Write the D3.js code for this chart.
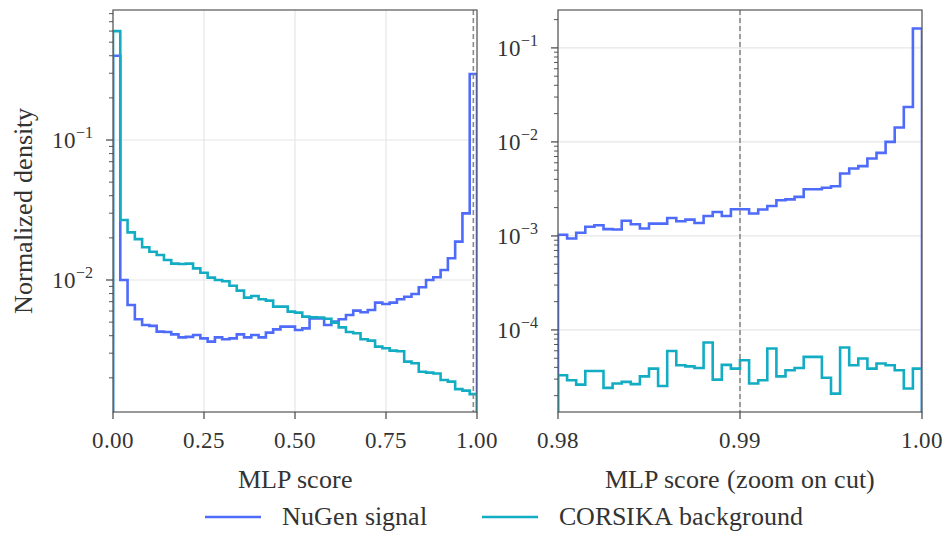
<!DOCTYPE html>
<html><head><meta charset="utf-8"><script src="https://cdn.jsdelivr.net/npm/d3@7"></script>
<style>
  @font-face { font-family: 'ChartSerif'; src: local('Liberation Serif'), local('LiberationSerif'), local('LiberationSerif-Regular'); }
  body { margin: 0; background: #fff; }
  svg text { font-family: 'ChartSerif', 'Liberation Serif', serif; }
</style>
</head>
<body>
<script>
// full range histogram: 50 bins on [0, 1]
const fullBins = 50;
const fullDomain = [0, 1];
const nugenFull = [
  0.40, 0.0100, 0.00663, 0.00524, 0.00477, 0.00470, 0.00428, 0.00425, 0.00409, 0.00389,
  0.00392, 0.00405, 0.00383, 0.00363, 0.00389, 0.00377, 0.00383, 0.00409, 0.00389, 0.00405,
  0.00389, 0.00421, 0.00444, 0.00464, 0.00464, 0.00439, 0.00451, 0.00532, 0.00532, 0.00477,
  0.00504, 0.00524, 0.00562, 0.00604, 0.00588, 0.00611, 0.00689, 0.00674, 0.00689, 0.00728,
  0.00760, 0.00794, 0.00887, 0.0100, 0.01045, 0.01179, 0.01429, 0.0188, 0.0299, 0.296
];
const corsikaFull = [
  0.60, 0.0268, 0.0219, 0.0196, 0.01714, 0.0159, 0.0151, 0.0139, 0.0131, 0.0130,
  0.0131, 0.0121, 0.01127, 0.0104, 0.0100, 0.0098, 0.0091, 0.0084, 0.00748, 0.00769,
  0.00728, 0.00712, 0.00645, 0.00645, 0.00594, 0.00585, 0.00547, 0.00541, 0.0054, 0.00529,
  0.00496, 0.00459, 0.00425, 0.00416, 0.00377, 0.00369, 0.00334, 0.00325, 0.00313, 0.0031,
  0.00261, 0.00254, 0.00221, 0.00218, 0.00215, 0.00193, 0.00188, 0.00166, 0.00162, 0.00153
];

// zoom histogram: 40 bins on [0.98, 1]
const zoomBins = 40;
const zoomDomain = [0.98, 1.0];
const nugenZoom = [
  0.00103, 0.000938, 0.00108, 0.00125, 0.00130, 0.00118, 0.00117, 0.00145, 0.00133, 0.00120,
  0.00135, 0.00135, 0.00155, 0.00143, 0.00149, 0.00137, 0.00163, 0.00180, 0.00163, 0.00192,
  0.00192, 0.00173, 0.00191, 0.00208, 0.00240, 0.00245, 0.00260, 0.00314, 0.00314, 0.00325,
  0.00338, 0.00461, 0.00521, 0.00552, 0.00666, 0.00764, 0.0100, 0.01422, 0.02355, 0.161
];
const corsikaZoom = [
  3.30e-5, 2.92e-5, 2.62e-5, 3.66e-5, 3.66e-5, 2.42e-5, 2.69e-5, 2.80e-5, 2.65e-5, 3.21e-5,
  3.88e-5, 2.53e-5, 5.98e-5, 4.21e-5, 4.10e-5, 3.93e-5, 7.34e-5, 2.96e-5, 4.25e-5, 3.88e-5,
  4.76e-5, 2.69e-5, 2.92e-5, 6.34e-5, 3.21e-5, 3.72e-5, 3.94e-5, 5.17e-5, 5.17e-5, 3.10e-5,
  2.10e-5, 6.50e-5, 4.21e-5, 4.97e-5, 3.88e-5, 4.40e-5, 4.21e-5, 3.72e-5, 2.38e-5, 3.88e-5
];

const cutValue = 0.99;
const fullTicks = [0, 0.25, 0.5, 0.75, 1.0];
const zoomTicks = [0.98, 0.99, 1.0];
const seriesNames = ['NuGen signal', 'CORSIKA background'];
const COLORS = ['#4f6bfa', '#13adc3'];

const WIDTH = 947;
const HEIGHT = 533;
const TOP = 10;
const BOTTOM = 412;
const TEXT_COLOR = '#333';

const svg = d3.select('body').append('svg').attr('width', WIDTH).attr('height', HEIGHT);

function addText(parent, size) {
  return parent.append('text').attr('font-size', size).attr('fill', TEXT_COLOR);
}

function stepPoints(values, edges, yBottom) {
  const pts = [[edges[0], yBottom]];
  values.forEach((v, i) => {
    pts.push([edges[i], v]);
    pts.push([edges[i + 1], v]);
  });
  pts.push([edges[edges.length - 1], yBottom]);
  return pts;
}

function superscript(sel, exp) {
  sel.append('tspan').text('10');
  sel.append('tspan').attr('dy', -10).attr('font-size', 16).text('\u2212' + Math.abs(exp));
}

function drawPanel(opts) {
  const { id, left, right, xDomain, yDomain, nBins, series, xTicks, tickFmt, decades, xLabel } = opts;
  const x = d3.scaleLinear().domain(xDomain).range([left, right]);
  const y = d3.scaleLog().domain(yDomain).range([BOTTOM, TOP]);
  const g = svg.append('g').attr('class', `panel-${id}`);

  g.append('clipPath').attr('id', `clip-${id}`)
    .append('rect').attr('x', left).attr('y', TOP).attr('width', right - left).attr('height', BOTTOM - TOP);

  // grid
  g.selectAll('line.vgrid').data(xTicks).enter().append('line')
    .attr('x1', (d) => x(d)).attr('x2', (d) => x(d)).attr('y1', TOP).attr('y2', BOTTOM)
    .attr('stroke', '#e6e6e6').attr('stroke-width', 1.2);
  g.selectAll('line.hgrid').data(decades).enter().append('line')
    .attr('x1', left).attr('x2', right).attr('y1', (d) => y(Math.pow(10, d))).attr('y2', (d) => y(Math.pow(10, d)))
    .attr('stroke', '#e6e6e6').attr('stroke-width', 1.2);

  // bin edges
  const binW = (xDomain[1] - xDomain[0]) / nBins;
  const edges = d3.range(nBins + 1).map((i) => xDomain[0] + i * binW);

  const line = d3.line().x((d) => x(d[0])).y((d) => y(d[1]));
  const yLow = yDomain[0] / 100;

  const plot = g.append('g').attr('clip-path', `url(#clip-${id})`);
  series.forEach((vals, i) => {
    plot.append('path')
      .attr('d', line(stepPoints(vals, edges, yLow)))
      .attr('fill', 'none')
      .attr('stroke', COLORS[i])
      .attr('stroke-width', 2.6)
      .attr('stroke-linejoin', 'miter');
  });

  // cut line
  plot.append('line')
    .attr('x1', x(cutValue)).attr('x2', x(cutValue)).attr('y1', TOP).attr('y2', BOTTOM)
    .attr('stroke', '#8a8a8a').attr('stroke-width', 1.6).attr('stroke-dasharray', '5,3');

  // spines
  g.append('rect').attr('x', left).attr('y', TOP).attr('width', right - left).attr('height', BOTTOM - TOP)
    .attr('fill', 'none').attr('stroke', '#555').attr('stroke-width', 1.2);

  // x ticks
  const xAxis = g.append('g');
  xTicks.forEach((t) => {
    xAxis.append('line').attr('x1', x(t)).attr('x2', x(t)).attr('y1', BOTTOM).attr('y2', BOTTOM + 7)
      .attr('stroke', '#444').attr('stroke-width', 1.2);
    addText(xAxis, 23).attr('x', x(t)).attr('y', BOTTOM + 36)
      .attr('text-anchor', 'middle').text(tickFmt(t));
  });
  addText(g, 26).attr('x', (left + right) / 2).attr('y', 488)
    .attr('text-anchor', 'middle').text(xLabel);

  // y ticks (log)
  const yAxis = g.append('g');
  const [lo, hi] = yDomain;
  for (let e = Math.floor(Math.log10(lo)); e <= Math.ceil(Math.log10(hi)); e++) {
    for (let m = 1; m <= 9; m++) {
      const v = m * Math.pow(10, e);
      if (v < lo || v > hi) continue;
      const yy = y(v);
      yAxis.append('line').attr('x1', left - (m === 1 ? 7 : 4)).attr('x2', left).attr('y1', yy).attr('y2', yy)
        .attr('stroke', '#444').attr('stroke-width', m === 1 ? 1.2 : 0.9);
      if (m === 1) {
        addText(yAxis, 23).attr('x', left - 20).attr('y', yy + 8)
          .attr('text-anchor', 'end')
          .call(superscript, e);
      }
    }
  }
}

drawPanel({
  id: 'full', left: 113, right: 477,
  xDomain: fullDomain, yDomain: [0.00114, 0.849], nBins: fullBins,
  series: [nugenFull, corsikaFull], xTicks: fullTicks, tickFmt: d3.format('.2f'),
  decades: [-2, -1], xLabel: 'MLP score'
});

drawPanel({
  id: 'zoom', left: 558, right: 922,
  xDomain: zoomDomain, yDomain: [1.34e-5, 0.253], nBins: zoomBins,
  series: [nugenZoom, corsikaZoom], xTicks: zoomTicks, tickFmt: d3.format('.2f'),
  decades: [-4, -3, -2, -1], xLabel: 'MLP score (zoom on cut)'
});

// y label
addText(svg, 26)
  .attr('transform', 'translate(32,211) rotate(-90)')
  .attr('text-anchor', 'middle')
  .text('Normalized density');

// legend
const legendItems = [
  { name: seriesNames[0], color: COLORS[0], x0: 205 },
  { name: seriesNames[1], color: COLORS[1], x0: 482 }
];
const legend = svg.append('g').attr('class', 'legend');
legendItems.forEach((d) => {
  legend.append('line').attr('x1', d.x0).attr('x2', d.x0 + 56).attr('y1', 517).attr('y2', 517)
    .attr('stroke', d.color).attr('stroke-width', 2.6);
  addText(legend, 26).attr('x', d.x0 + 77).attr('y', 525).text(d.name);
});
</script>
</body>
</html>
